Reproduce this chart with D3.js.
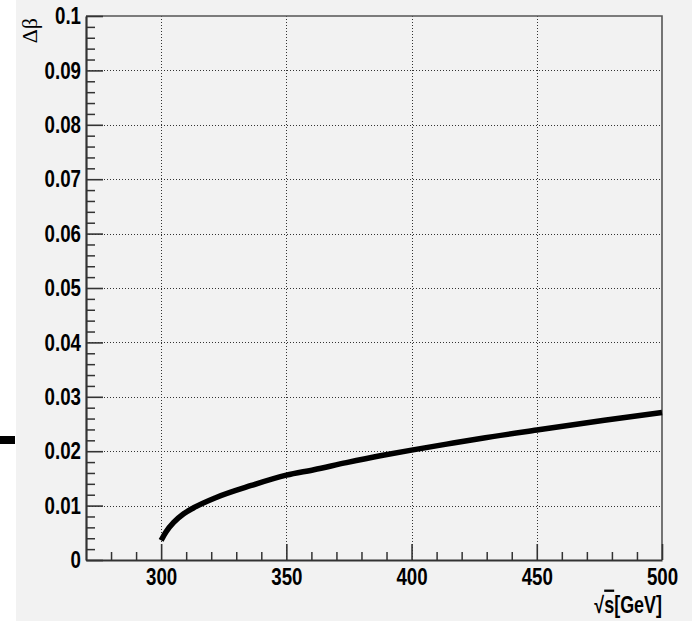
<!DOCTYPE html>
<html>
<head>
<meta charset="utf-8">
<script src="https://cdn.jsdelivr.net/npm/d3@7"></script>
<style>
  body { margin: 0; background: #fff; }
  svg { display: block; }
</style>
</head>
<body>
<svg width="692" height="621"></svg>
<script>
// sqrt(s) in GeV
let sqrtS = [300, 302, 305, 309, 313, 322, 336, 350, 361, 374, 388, 400, 414, 427, 450, 477, 500]
let deltaBeta = [0.0036, 0.0052, 0.0069, 0.0085, 0.0096, 0.0115, 0.0137, 0.0156, 0.0166, 0.0179, 0.0192, 0.0202, 0.0213, 0.0223, 0.0239, 0.0257, 0.0271]

let xMajor = [300, 350, 400, 450, 500]
let xMinor = [280, 290, 310, 320, 330, 340, 360, 370, 380, 390, 410, 420, 430, 440, 460, 470, 480, 490]
let yMajor = [0, 0.01, 0.02, 0.03, 0.04, 0.05, 0.06, 0.07, 0.08, 0.09, 0.1]
let yMinor = d3.range(0, 50).map(i => +(i * 0.002).toFixed(3)).filter(v => Math.round(v * 1000) % 10 != 0)

let points = sqrtS.map((s, i) => ({s: s, db: deltaBeta[i]}))

let svg = d3.select("svg"),
    width = +svg.attr("width"),
    height = +svg.attr("height")

let frameL = 86, frameR = 662, frameT = 16, frameB = 560
let font = "'Liberation Sans', Arial, sans-serif"
let squeeze = 0.78   // labels in the original are a condensed bold face

let x = d3.scaleLinear().domain([270, 500]).range([frameL, frameR])
let y = d3.scaleLinear().domain([0, 0.1]).range([frameB, frameT])

// pad background
svg.append("rect")
    .attr("x", 16).attr("y", 0)
    .attr("width", width - 16).attr("height", height)
    .attr("fill", "#f2f2f2")

// stray mark on the left edge
svg.append("rect")
    .attr("x", 0).attr("y", 436)
    .attr("width", 15).attr("height", 8)
    .attr("fill", "#000")

// grid
let grid = svg.append("g")
    .attr("stroke", "#333")
    .attr("stroke-width", 1)
    .attr("stroke-dasharray", "1,2")
grid.selectAll("line.gx")
    .data(xMajor.filter(v => v < 500))
  .enter().append("line")
    .attr("x1", d => Math.round(x(d)) + 0.5).attr("x2", d => Math.round(x(d)) + 0.5)
    .attr("y1", frameT).attr("y2", frameB)
grid.selectAll("line.gy")
    .data(yMajor.filter(v => v > 0 && v < 0.1))
  .enter().append("line")
    .attr("y1", d => Math.round(y(d)) + 0.5).attr("y2", d => Math.round(y(d)) + 0.5)
    .attr("x1", frameL).attr("x2", frameR)

// frame top / right
svg.append("path")
    .attr("d", `M${frameL},${frameT}H${frameR}V${frameB}`)
    .attr("fill", "none")
    .attr("stroke", "#555")
    .attr("stroke-width", 1.6)

// minor ticks
svg.append("g")
    .attr("transform", `translate(${frameL},0)`)
    .call(d3.axisLeft(y).tickValues(yMinor).tickSize(-9).tickSizeOuter(0).tickFormat(""))
    .call(g => g.select(".domain").remove())
    .selectAll("line").attr("stroke", "#333").attr("stroke-width", 1.5)
svg.append("g")
    .attr("transform", `translate(0,${frameB})`)
    .call(d3.axisBottom(x).tickValues(xMinor).tickSize(-8).tickSizeOuter(0).tickFormat(""))
    .call(g => g.select(".domain").remove())
    .selectAll("line").attr("stroke", "#333").attr("stroke-width", 1.5)

// major axes
let yAxis = svg.append("g")
    .attr("transform", `translate(${frameL},0)`)
    .call(d3.axisLeft(y).tickValues(yMajor).tickSize(-17).tickSizeOuter(0).tickPadding(5)
      .tickFormat(d => d == 0 ? "0" : d3.format("")(+d.toFixed(2))))
let xAxis = svg.append("g")
    .attr("transform", `translate(0,${frameB})`)
    .call(d3.axisBottom(x).tickValues(xMajor).tickSize(-16).tickSizeOuter(0).tickPadding(8))

;[yAxis, xAxis].forEach(a => {
  a.select(".domain").attr("stroke", "#333").attr("stroke-width", 2.2)
  a.selectAll(".tick line").attr("stroke", "#333").attr("stroke-width", 1.6)
  a.selectAll(".tick text")
    .attr("font-family", font)
    .attr("font-weight", "bold")
    .attr("font-size", 24)
    .attr("fill", "#000")
    .attr("x", function() { return +d3.select(this).attr("x") / squeeze })
    .attr("transform", `scale(${squeeze},1)`)
})

// curve
svg.append("path")
    .datum(points)
    .attr("fill", "none")
    .attr("stroke", "#000")
    .attr("stroke-width", 5.5)
    .attr("d", d3.line().x(d => x(d.s)).y(d => y(d.db)).curve(d3.curveMonotoneX))

// axis titles
let xt = svg.append("text")
    .attr("transform", `translate(${frameR},613) scale(${squeeze},1)`)
    .attr("text-anchor", "end")
    .attr("font-family", font)
    .attr("font-weight", "bold")
    .attr("font-size", 23)
xt.append("tspan").text("√")
xt.append("tspan").text("s").style("text-decoration", "overline")
xt.append("tspan").text("[GeV]")

svg.append("text")
    .attr("transform", "translate(37,18) rotate(-90)")
    .attr("text-anchor", "end")
    .attr("font-family", "'Liberation Serif', 'DejaVu Serif', serif")
    .attr("font-size", 22)
    .text("Δβ")
</script>
</body>
</html>
